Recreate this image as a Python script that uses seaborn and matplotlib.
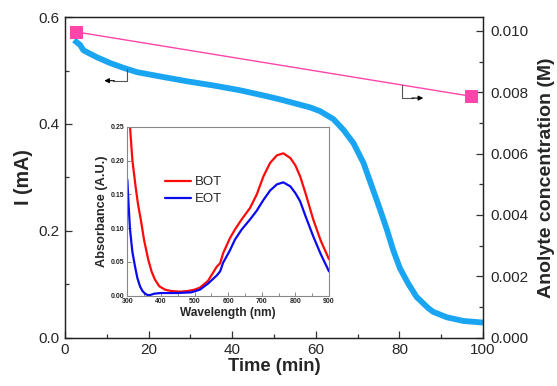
import matplotlib
matplotlib.use("Agg")
import matplotlib.pyplot as plt
from matplotlib.ticker import MultipleLocator, FormatStrFormatter
import pandas as pd
import seaborn as sns

# Current during electrolysis
time_min = [2.15, 3.6, 4.4, 5.6, 7.6, 10.8, 14.0, 17.2, 22.7, 29.1, 35.5, 41.9, 48.2,
            51.4, 56.2, 58.6, 61.0, 64.2, 66.6, 69.0, 71.4, 73.4, 75.4, 77.0, 78.5,
            80.1, 82.1, 84.1, 86.9, 88.1, 91.3, 95.3, 100.0]
current_mA = [0.557, 0.548, 0.538, 0.533, 0.525, 0.514, 0.505, 0.497, 0.489, 0.480,
              0.472, 0.463, 0.452, 0.446, 0.436, 0.431, 0.424, 0.409, 0.389, 0.364,
              0.327, 0.283, 0.239, 0.202, 0.164, 0.130, 0.101, 0.076, 0.055, 0.048,
              0.038, 0.031, 0.028]

# Anolyte concentration at beginning and end of test
conc_time = [2.6, 97.1]
conc_M = [0.00997, 0.00787]

# UV-vis spectra (inset)
wl_bot = [300, 308, 315, 325, 332, 340, 350, 362, 372, 382, 395, 412, 430, 457, 480,
          500, 516, 540, 566, 576, 585, 605, 620, 640, 665, 685, 705, 725, 745, 764,
          785, 800, 814, 830, 853, 875, 900]
abs_bot = [0.305, 0.250, 0.201, 0.160, 0.135, 0.113, 0.082, 0.054, 0.036, 0.024,
           0.014, 0.009, 0.007, 0.006, 0.007, 0.009, 0.012, 0.022, 0.043, 0.048,
           0.063, 0.085, 0.098, 0.113, 0.130, 0.150, 0.177, 0.197, 0.208, 0.211,
           0.204, 0.193, 0.177, 0.152, 0.113, 0.082, 0.054]
wl_eot = [300, 304, 308, 315, 323, 330, 338, 345, 353, 360, 368, 380, 400, 450, 490,
          516, 540, 566, 576, 585, 605, 620, 640, 665, 685, 705, 725, 745, 764, 785,
          800, 814, 830, 853, 875, 900]
abs_eot = [0.172, 0.132, 0.098, 0.065, 0.043, 0.026, 0.0135, 0.007, 0.003, 0.001,
           0.001, 0.003, 0.004, 0.004, 0.005, 0.009, 0.018, 0.030, 0.036, 0.049,
           0.067, 0.083, 0.098, 0.113, 0.126, 0.142, 0.156, 0.165, 0.168, 0.162,
           0.152, 0.140, 0.118, 0.088, 0.062, 0.036]

sns.set_style("ticks")
plt.rcParams["font.family"] = ["Liberation Sans", "DejaVu Sans"]
plt.rcParams["xtick.direction"] = "in"
plt.rcParams["ytick.direction"] = "in"

BLUE = "#1AA5F2"
PINK = "#FF45AA"

fig = plt.figure(figsize=(5.57, 3.86), dpi=100)
ax = fig.add_axes([0.1167, 0.1256, 0.7505, 0.830])

df_i = pd.DataFrame({"t": time_min, "I": current_mA})
sns.lineplot(data=df_i, x="t", y="I", ax=ax, color=BLUE, lw=4.2, solid_capstyle="butt")
ax.set_xlim(0, 100)
ax.set_ylim(0, 0.6)
ax.xaxis.set_major_locator(MultipleLocator(20))
ax.xaxis.set_minor_locator(MultipleLocator(10))
ax.yaxis.set_major_locator(MultipleLocator(0.2))
ax.yaxis.set_minor_locator(MultipleLocator(0.1))
ax.tick_params(which="major", length=5, width=0.9, labelsize=11, pad=4, color="#333333")
ax.tick_params(which="minor", length=3, width=0.9, color="#333333")
ax.set_xlabel("Time (min)", fontsize=13.2, fontweight="bold", labelpad=1)
ax.set_ylabel("I (mA)", fontsize=14.2, fontweight="bold", labelpad=4)
for s in ax.spines.values():
    s.set_linewidth(0.9)
    s.set_color("#222222")

ax2 = ax.twinx()
df_c = pd.DataFrame({"t": conc_time, "c": conc_M})
sns.lineplot(data=df_c, x="t", y="c", ax=ax2, color=PINK, lw=1.0, marker="s",
             markersize=8.5, markeredgecolor=PINK, markerfacecolor=PINK)
ax2.set_ylim(0, 0.01045)
ax2.yaxis.set_major_locator(MultipleLocator(0.002))
ax2.yaxis.set_minor_locator(MultipleLocator(0.001))
ax2.yaxis.set_major_formatter(FormatStrFormatter("%.3f"))
ax2.tick_params(which="major", length=5, width=0.9, labelsize=11, pad=5, color="#333333")
ax2.tick_params(which="minor", length=3, width=0.9, color="#333333")
ax2.set_ylabel("Anolyte concentration (M)", fontsize=14.0, fontweight="bold", labelpad=7)
for s in ax2.spines.values():
    s.set_linewidth(0.9)
    s.set_color("#222222")

# Pointers linking each curve to its axis
ax.plot([14.8, 14.8, 11.5], [0.502, 0.481, 0.481], color="#555555", lw=0.8)
ax.annotate("", xy=(9.4, 0.481), xytext=(11.8, 0.481),
            arrowprops=dict(arrowstyle="-|>", color="black", lw=0.8,
                            mutation_scale=7, shrinkA=0, shrinkB=0))
ax2.plot([80.7, 80.7, 83.2], [0.00824, 0.00781, 0.00781], color="#555555", lw=0.8)
ax2.annotate("", xy=(85.7, 0.00781), xytext=(83.0, 0.00781),
             arrowprops=dict(arrowstyle="-|>", color="black", lw=0.8,
                             mutation_scale=7, shrinkA=0, shrinkB=0))

# Inset: absorbance spectra before and after the test
axin = fig.add_axes([0.2286, 0.2339, 0.3621, 0.4371])
spec = pd.concat([
    pd.DataFrame({"wl": wl_bot, "A": abs_bot, "run": "BOT"}),
    pd.DataFrame({"wl": wl_eot, "A": abs_eot, "run": "EOT"}),
])
sns.lineplot(data=spec, x="wl", y="A", hue="run", palette={"BOT": "#FF0A0A", "EOT": "#0A0AF0"},
             ax=axin, lw=1.6)
axin.set_xlim(300, 900)
axin.set_ylim(0, 0.25)
axin.xaxis.set_major_locator(MultipleLocator(100))
axin.xaxis.set_minor_locator(MultipleLocator(50))
axin.yaxis.set_major_locator(MultipleLocator(0.05))
axin.yaxis.set_major_formatter(FormatStrFormatter("%.2f"))
axin.tick_params(which="major", length=3, width=0.7, labelsize=5, pad=2, color="#888888")
axin.tick_params(which="minor", length=2, width=0.7, color="#888888")
for lab in axin.get_xticklabels() + axin.get_yticklabels():
    lab.set_fontweight("bold")
for s in axin.spines.values():
    s.set_linewidth(0.8)
    s.set_color("#888888")
axin.set_xlabel("Wavelength (nm)", fontsize=8.6, fontweight="bold", labelpad=1)
axin.set_ylabel("Absorbance (A.U.)", fontsize=9.2, fontweight="bold", labelpad=2)
leg = axin.legend(loc="upper left", bbox_to_anchor=(0.16, 0.74), frameon=False,
                  fontsize=9.5, handlelength=2.0, handletextpad=0.3, labelspacing=0.35,
                  borderaxespad=0)
for h in leg.get_lines():
    h.set_linewidth(1.6)

fig.savefig("out.png", dpi=100)
